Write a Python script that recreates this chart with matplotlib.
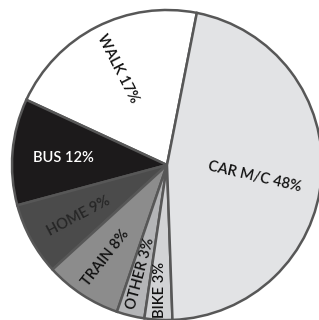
import numpy as np
import matplotlib
matplotlib.use("Agg")
import matplotlib.pyplot as plt

# wedge shares, labels as printed on it
modes = ["WALK", "BUS", "HOME", "TRAIN", "OTHER", "BIKE", "CAR M/C"]
shares = [21.2, 11.1, 7.6, 8.0, 2.9, 2.9, 46.4]
printed = [17, 12, 9, 8, 3, 3, 48]
colors = ["#ffffff", "#1c1a1b", "#4b4b4b", "#8c8c8c", "#b4b5b7", "#d2d3d5", "#e2e3e5"]
text_colors = ["#111111", "#ffffff", "#262626", "#111111", "#111111", "#111111", "#111111"]
label_r = [0.70, 0.67, 0.66, 0.72, 0.72, 0.81, 0.57]
label_rot = [-63, 0, 28, 52, 75, 90, -13]
label_shift = [0, 1, 1.5, 0, 0, 0, -3]

plt.rcParams["font.family"] = ["Lato", "DejaVu Sans"]

fig = plt.figure(figsize=(3.19, 3.20), dpi=100)
ax = fig.add_axes([0, 0, 1, 1])
cx, cy, R = 167, 155, 155

wedges, _ = ax.pie(shares, colors=colors, startangle=78.9, counterclock=True,
                   center=(cx, cy), radius=R,
                   wedgeprops=dict(edgecolor="#575757", linewidth=1.8))

for w, m, p, tc, r, rot, sh in zip(wedges, modes, printed, text_colors,
                                   label_r, label_rot, label_shift):
    mid = np.deg2rad((w.theta1 + w.theta2) / 2 + sh)
    x = cx + r * R * np.cos(mid)
    y = cy + r * R * np.sin(mid)
    ax.text(x, y, f"{m} {p}%", color=tc, fontsize=10.5, fontweight="semibold",
            rotation=rot, ha="center", va="center", rotation_mode="anchor")

ax.set_xlim(0, 319)
ax.set_ylim(0, 320)
ax.set_aspect("equal")
ax.axis("off")

fig.savefig("out.png", dpi=100)
